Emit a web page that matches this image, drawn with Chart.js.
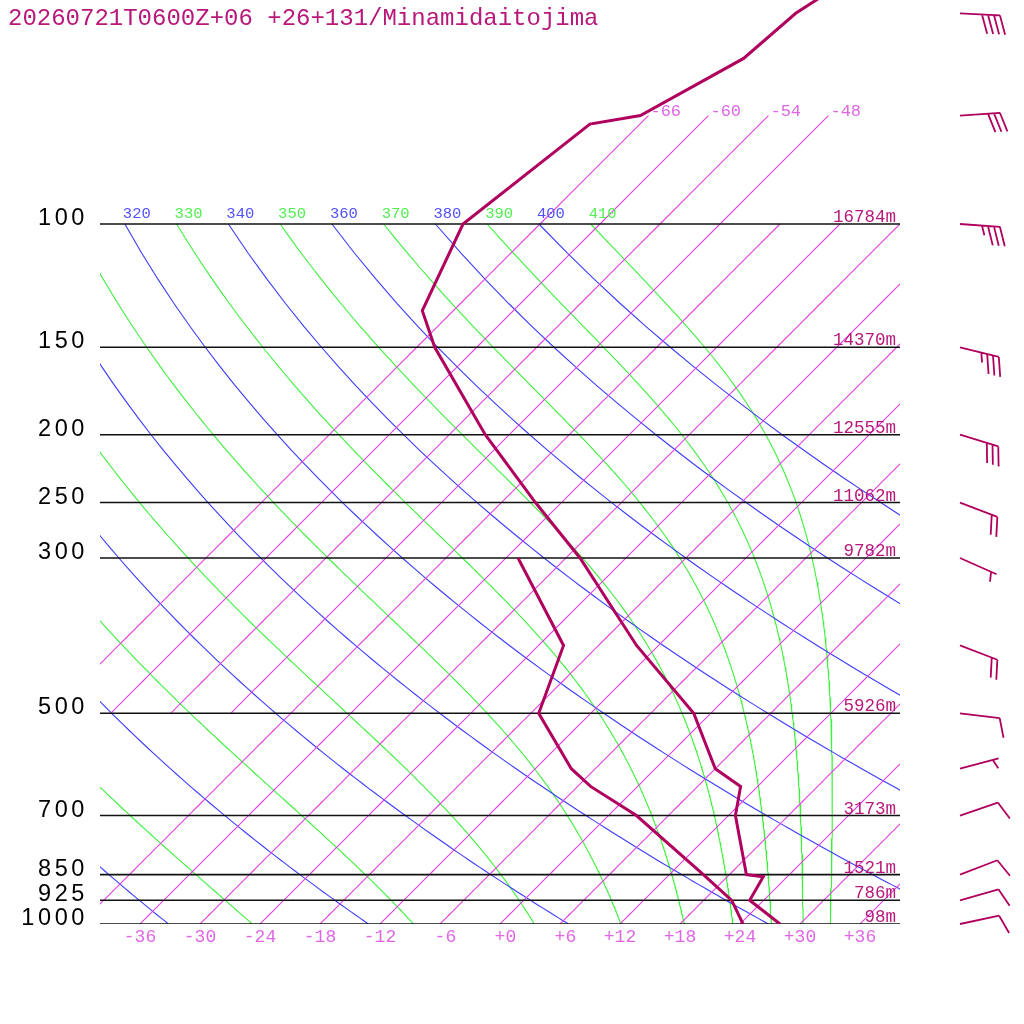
<!DOCTYPE html>
<html>
<head>
<meta charset="utf-8">
<title>Minamidaitojima sounding</title>
<script src="https://cdn.jsdelivr.net/npm/chart.js@4.4.1/dist/chart.umd.min.js"></script>
<style>
html, body { margin: 0; padding: 0; background: #fff; }
#wrap { width: 1024px; height: 1024px; }
</style>
</head>
<body>
<div id="wrap"><canvas id="skewt" width="1024" height="1024"></canvas></div>
<script>
var TITLE = '20260721T0600Z+06 +26+131/Minamidaitojima';

// temperature profile (hPa / degC)
var PRES_T = [1000, 925, 856, 850, 700, 636, 600, 500, 400, 300, 250, 200, 150, 133, 100, 72, 70, 58, 50, 30];
var TEMP   = [28.0, 22.6, 21.6, 19.7, 12.7, 10.3, 6.0, -1.7, -14.2, -28.6, -38.6, -50.4, -64.2, -69.1, -73.7, -71.0, -66.8, -62.2, -61.5, -53.0];

// dewpoint profile
var PRES_TD = [1000, 925, 850, 700, 636, 600, 500, 400, 300];
var DEWP    = [24.3, 20.8, 15.4, 2.8, -4.7, -8.4, -17.2, -21.5, -34.8];

// standard levels and their heights
var LEVELS  = [1000, 925, 850, 700, 500, 300, 250, 200, 150, 100];
var HEIGHTS = [98, 786, 1521, 3173, 5926, 9782, 11062, 12555, 14370, 16784];

// winds (direction from, knots)
var WIND_P   = [1000, 925, 850, 700, 600, 500, 400, 300, 250, 200, 150, 100, 70, 50];
var WIND_DIR = [78, 74, 69, 71, 75, 97, 111, 114, 111, 107, 104, 94, 86, 93];
var WIND_KT  = [10, 10, 10, 10, 5, 10, 20, 5, 20, 30, 35, 35, 30, 40];

// background lines
var TICK_T   = [-36, -30, -24, -18, -12, -6, 0, 6, 12, 18, 24, 30, 36];
var ISO_LOW  = [-42, -36, -30, -24, -18, -12, -6, 0, 6, 12, 18, 24, 30, 36]; // 1000 -> 100 hPa
var ISO_HIGH = [-66, -60, -54, -48];                                         // 500 -> 70 hPa
var THETA    = [240, 260, 280, 300, 320, 340, 360, 380, 400];                // dry adiabats
var THETAE   = [250, 270, 290, 310, 330, 350, 370, 390, 410];                // moist adiabats

var SKEW = 70;      // degC of skew per decade of pressure
var KAPPA = 0.286;
var RD = 287.04, CP = 1005.7, LV = 2.501e6, EPS = 0.622;
var PTOP = 1000 * Math.pow(10, -924 / 700);

var C_LINE = '#b0005e';
var C_TEXT = '#b8187a';
var C_ISO = 'rgb(226, 64, 226)';
var C_ISO_TXT = '#e066e6';
var C_DRY = 'rgb(60, 60, 255)';
var C_WET = 'rgb(60, 240, 60)';

function sk(t, p) {
    return { x: t + SKEW * Math.log10(1000 / p), y: p };
}

function dryLine(theta) {
    var pts = [];
    for (var p = 100; p <= 1000; p += 10) {
        pts.push(sk(theta * Math.pow(p / 1000, KAPPA) - 273.15, p));
    }
    return pts;
}

function moistSlope(p, t) {
    var es = 6.112 * Math.exp(17.67 * (t - 273.15) / (t - 29.65));
    var rs = EPS * es / (p - es);
    return (RD * t + LV * rs) / (p * (CP + LV * LV * rs * EPS / (RD * t * t)));
}

function moistLine(thetae) {
    var p = 100, t = thetae * Math.pow(p / 1000, KAPPA), dp = 5;
    var pts = [sk(t - 273.15, p)];
    while (p < 1000) {
        var k1 = moistSlope(p, t);
        var k2 = moistSlope(p + dp / 2, t + k1 * dp / 2);
        var k3 = moistSlope(p + dp / 2, t + k2 * dp / 2);
        var k4 = moistSlope(p + dp, t + k3 * dp);
        t += dp * (k1 + 2 * k2 + 2 * k3 + k4) / 6;
        p += dp;
        pts.push(sk(t - 273.15, p));
    }
    return pts;
}

function lineSet(data, color, width, order) {
    return {
        data: data, showLine: true, borderColor: color, backgroundColor: color,
        borderWidth: width, pointRadius: 0, pointHoverRadius: 0, tension: 0,
        fill: false, order: order
    };
}

var datasets = [];

// sounding
datasets.push(lineSet(PRES_T.map(function (p, i) { return sk(TEMP[i], p); }), C_LINE, 3, 0));
datasets.push(lineSet(PRES_TD.map(function (p, i) { return sk(DEWP[i], p); }), C_LINE, 3, 0));

// pressure levels
LEVELS.forEach(function (p) {
    datasets.push(lineSet([{ x: -40, y: p }, { x: 40, y: p }], '#111', 1.6, 1));
});

// isotherms, split into several points so the line keeps its colour
function isoLine(t, pBottom, pTop) {
    var pts = [];
    for (var p = pBottom; p >= pTop; p -= 10) pts.push(sk(t, p));
    return pts;
}
ISO_LOW.forEach(function (t) {
    datasets.push(lineSet(isoLine(t, 1000, 100), C_ISO, 1.1, 2));
});
ISO_HIGH.forEach(function (t) {
    datasets.push(lineSet(isoLine(t, 500, 70), C_ISO, 1.1, 2));
});
THETA.forEach(function (th) {
    datasets.push(lineSet(dryLine(th), C_DRY, 1.1, 2));
});
THETAE.forEach(function (th) {
    datasets.push(lineSet(moistLine(th), C_WET, 1.1, 2));
});

function fmtT(v) {
    var s = (v < 0 ? '-' : '+') + Math.abs(v);
    while (s.length < 3) s = ' ' + s;
    return s;
}

function drawBarb(ctx, x0, y0, dir, kt) {
    var a = dir * Math.PI / 180;
    var ux = Math.sin(a), uy = -Math.cos(a);
    var tx = x0 + ux * 40, ty = y0 + uy * 40;
    var ang = Math.atan2(uy, ux) + 72 * Math.PI / 180;
    var bx = Math.cos(ang), by = Math.sin(ang);
    var n10 = Math.floor(kt / 10), n5 = Math.round((kt % 10) / 5);
    var off = (n10 === 0 && n5) ? 6 : 0;
    ctx.beginPath();
    ctx.moveTo(x0, y0);
    ctx.lineTo(tx, ty);
    for (var i = 0; i < n10; i++) {
        var px = tx - ux * off, py = ty - uy * off;
        ctx.moveTo(px, py);
        ctx.lineTo(px + bx * 20, py + by * 20);
        off += 6;
    }
    if (n5) {
        var qx = tx - ux * off, qy = ty - uy * off;
        ctx.moveTo(qx, qy);
        ctx.lineTo(qx + bx * 10, qy + by * 10);
    }
    ctx.stroke();
}

var textPlugin = {
    id: 'skewtText',
    afterDraw: function (chart) {
        var ctx = chart.ctx, xs = chart.scales.x, ys = chart.scales.y, area = chart.chartArea;
        ctx.save();

        ctx.font = '24px "Liberation Mono"';
        ctx.fillStyle = C_TEXT;
        ctx.textAlign = 'left';
        ctx.textBaseline = 'alphabetic';
        ctx.fillText(TITLE, 8, 25);

        LEVELS.forEach(function (p, i) {
            var y = ys.getPixelForValue(p);
            ctx.font = '23.5px "Liberation Sans"';
            ctx.letterSpacing = '3.6px';
            ctx.fillStyle = '#000';
            ctx.textAlign = 'right';
            ctx.fillText(String(p), 88, y + 1);
            ctx.letterSpacing = '0px';
            ctx.font = '17.5px "Liberation Mono"';
            ctx.fillStyle = C_TEXT;
            ctx.fillText(HEIGHTS[i] + 'm', 896, y - 2);
        });

        // isotherm labels at the top of the upper lines
        ctx.font = '17px "Liberation Mono"';
        ctx.fillStyle = C_ISO_TXT;
        ctx.textAlign = 'left';
        ISO_HIGH.forEach(function (t) {
            var pt = sk(t, 70);
            ctx.fillText(String(t), xs.getPixelForValue(pt.x) + 2, ys.getPixelForValue(70));
        });

        // adiabat labels along 100 hPa, clipped to the plot
        ctx.save();
        ctx.beginPath();
        ctx.rect(area.left, 0, area.right - area.left, area.bottom);
        ctx.clip();
        ctx.font = '15.5px "Liberation Mono"';
        var y100 = ys.getPixelForValue(100) - 6;
        THETA.forEach(function (th) {
            var x = xs.getPixelForValue(dryLine(th)[0].x);
            ctx.fillStyle = '#5050ff';
            ctx.fillText(String(th), x - 2, y100);
        });
        THETAE.forEach(function (th) {
            var x = xs.getPixelForValue(moistLine(th)[0].x);
            ctx.fillStyle = '#50f050';
            ctx.fillText(String(th), x - 2, y100);
        });
        ctx.restore();

        // wind barbs
        ctx.strokeStyle = C_LINE;
        ctx.lineWidth = 1.8;
        WIND_P.forEach(function (p, i) {
            drawBarb(ctx, 960, ys.getPixelForValue(p), WIND_DIR[i], WIND_KT[i]);
        });

        ctx.restore();
    }
};

new Chart(document.getElementById('skewt'), {
    type: 'scatter',
    data: { datasets: datasets },
    options: {
        responsive: false,
        animation: false,
        devicePixelRatio: 1,
        events: [],
        layout: { padding: { left: 100, right: 124, top: 0, bottom: 0 } },
        plugins: { legend: { display: false }, tooltip: { enabled: false } },
        scales: {
            x: {
                type: 'linear',
                position: 'bottom',
                min: -40,
                max: 40,
                grid: { display: false, drawTicks: false },
                border: { display: false },
                afterBuildTicks: function (s) {
                    s.min = -40;
                    s.max = 40;
                    s.ticks = TICK_T.map(function (v) { return { value: v }; });
                },
                afterFit: function (s) { s.height = 100; },
                ticks: {
                    autoSkip: false,
                    maxRotation: 0,
                    minRotation: 0,
                    padding: 2,
                    color: C_ISO_TXT,
                    font: { family: 'Liberation Mono', size: 18 },
                    callback: function (v) { return fmtT(v); }
                }
            },
            y: {
                type: 'logarithmic',
                display: false,
                reverse: true,
                min: PTOP,
                max: 1000,
                afterBuildTicks: function (s) {
                    s.min = PTOP;
                    s.max = 1000;
                    s.ticks = LEVELS.map(function (v) { return { value: v }; });
                }
            }
        }
    },
    plugins: [textPlugin]
});
</script>
</body>
</html>
